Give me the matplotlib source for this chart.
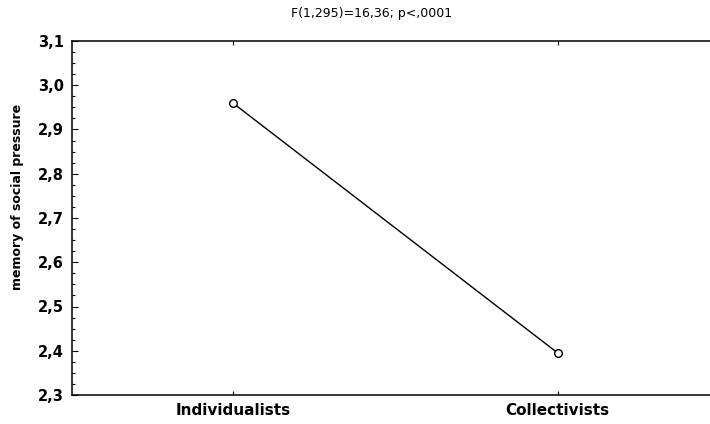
import matplotlib.pyplot as plt
from matplotlib.ticker import MultipleLocator, FuncFormatter

plt.rcParams['font.family'] = ['DejaVu Sans']

groups = ['Individualists', 'Collectivists']
means = [2.96, 2.395]
title = 'F(1,295)=16,36; p<,0001'
ylabel = 'memory of social pressure'

fig = plt.figure(figsize=(7.1, 4.24), dpi=100)
ax = fig.add_axes([72 / 710, 29 / 424, 640 / 710, 354 / 424])

x = list(range(len(groups)))
ax.plot(x, means, color='black', lw=1, marker='o', ms=5.5,
        mfc='white', mec='black', mew=1)

ax.set_xlim(-0.495, 1.475)
ax.set_ylim(2.3, 3.1)
ax.set_xticks(x)
ax.set_xticklabels(groups, fontsize=11, fontweight='bold')
ax.yaxis.set_major_locator(MultipleLocator(0.1))
ax.yaxis.set_minor_locator(MultipleLocator(0.025))
ax.yaxis.set_major_formatter(FuncFormatter(lambda v, p: f'{v:.1f}'.replace('.', ',')))
for lab in ax.get_yticklabels():
    lab.set_fontweight('bold')
ax.tick_params(axis='y', labelsize=10.5, direction='in', length=4, width=0.8, pad=6)
ax.tick_params(axis='y', which='minor', direction='in', length=2.5, width=0.8)
ax.tick_params(axis='x', direction='in', length=3, width=0.8, top=True, pad=6)
ax.tick_params(axis='y', right=False)
for s in ax.spines.values():
    s.set_linewidth(1.1)

fig.text(18 / 710, 1 - 197 / 424, ylabel, rotation=90, ha='center', va='center',
         fontsize=9, fontweight='bold')
fig.text(0.523, 1 - 14 / 424, title, ha='center', va='center', fontsize=9)

fig.savefig('out.png', dpi=100)
